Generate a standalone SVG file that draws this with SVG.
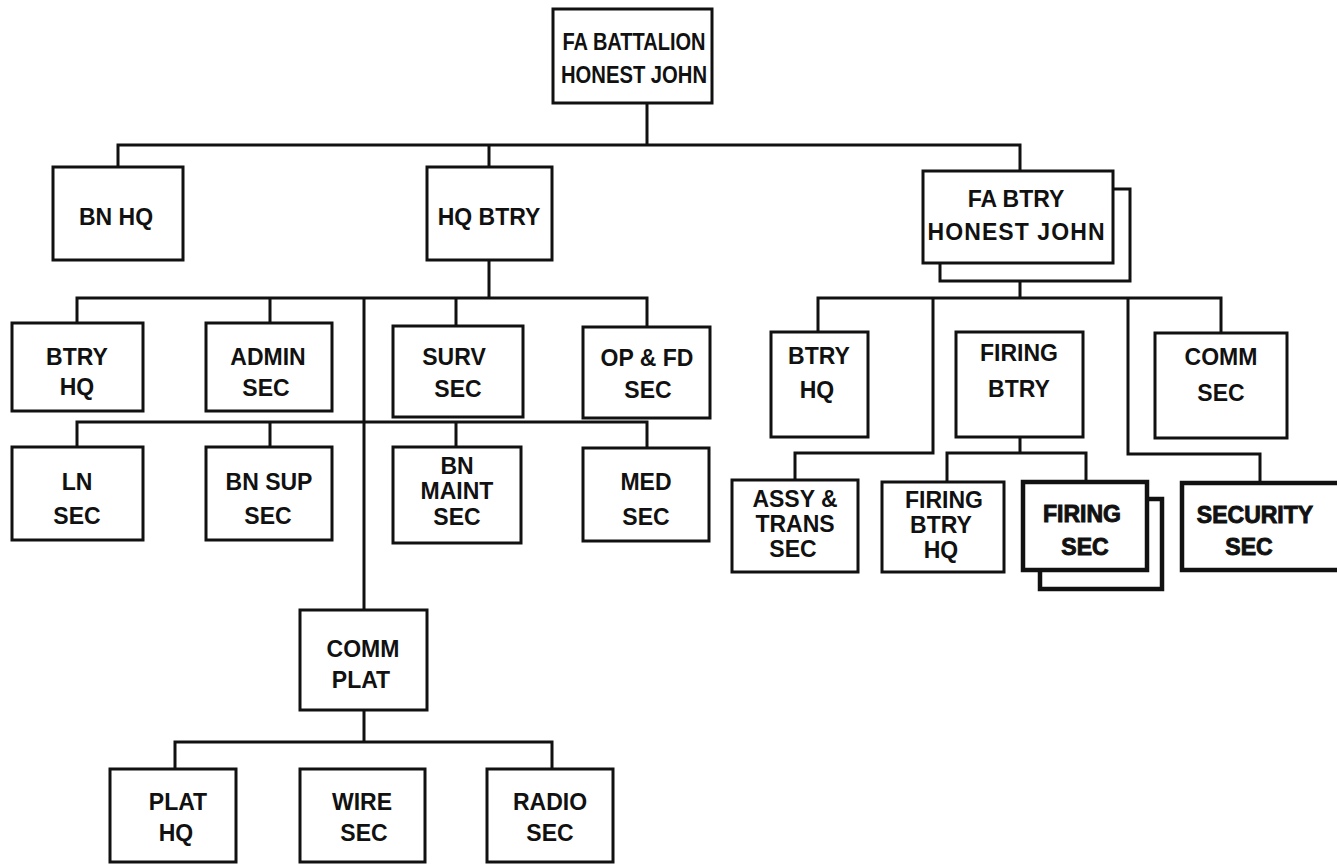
<svg xmlns="http://www.w3.org/2000/svg" width="1337" height="864" viewBox="0 0 1337 864">
<style>
.box{fill:#fff;stroke:#111;stroke-width:3}
.heavy{fill:#fff;stroke:#111;stroke-width:4.5}
.wire{fill:none;stroke:#111;stroke-width:3;stroke-linejoin:miter}
text{font-family:"Liberation Sans",Arial,sans-serif;font-weight:bold;font-size:23px;fill:#111;text-anchor:middle}
.hv{stroke:#111;stroke-width:0.9}
</style>
<rect width="1337" height="864" fill="#fff"/>
<g id="connectors">
<path class="wire" d="M647,103 V145 M118,167 V145 H1020 V171 M489,145 V167"/>
<path class="wire" d="M489,260 V298 M77,323 V298 H647 V327 M270,298 V323 M456,298 V326 M364,298 V610"/>
<path class="wire" d="M77,447 V422 H647 V448 M270,422 V447 M456,422 V447"/>
<path class="wire" d="M364,710 V742 M175,769 V742 H552 V769"/>
<path class="wire" d="M1020,281 V298 M818,332 V298 H1221 V333 M933,298 V453 H795 V480 M1128,298 V454 H1260 V483"/>
<path class="wire" d="M1020,437 V453 M947,482 V453 H1086 V482"/>
</g>
<g id="fa-battalion"><rect class="box" x="553" y="9" width="159" height="94"/>
<text x="634" y="50" textLength="143" lengthAdjust="spacingAndGlyphs">FA BATTALION</text>
<text x="634" y="83" textLength="146" lengthAdjust="spacingAndGlyphs">HONEST JOHN</text></g>
<g id="bn-hq"><rect class="box" x="53" y="167" width="130" height="93"/><text x="116" y="225">BN HQ</text></g>
<g id="hq-btry"><rect class="box" x="427" y="167" width="125" height="93"/><text x="489" y="225">HQ BTRY</text></g>
<g id="fa-btry"><rect class="box" x="940" y="189" width="190" height="92"/><rect class="box" x="923" y="171" width="190" height="92"/>
<text x="1016" y="207">FA BTRY</text><text x="1016" y="240" textLength="177">HONEST JOHN</text></g>
<g id="btry-hq-1"><rect class="box" x="12" y="323" width="131" height="88"/><text x="77" y="365">BTRY</text><text x="77" y="395">HQ</text></g>
<g id="admin-sec"><rect class="box" x="206" y="323" width="126" height="88"/><text x="268" y="365">ADMIN</text><text x="266" y="396">SEC</text></g>
<g id="surv-sec"><rect class="box" x="393" y="326" width="130" height="91"/><text x="454" y="365">SURV</text><text x="458" y="397">SEC</text></g>
<g id="op-fd-sec"><rect class="box" x="583" y="327" width="127" height="91"/><text x="647" y="366">OP &amp; FD</text><text x="648" y="398">SEC</text></g>
<g id="ln-sec"><rect class="box" x="12" y="447" width="131" height="93"/><text x="77" y="490">LN</text><text x="77" y="524">SEC</text></g>
<g id="bn-sup-sec"><rect class="box" x="206" y="447" width="126" height="93"/><text x="269" y="490">BN SUP</text><text x="268" y="524">SEC</text></g>
<g id="bn-maint-sec"><rect class="box" x="393" y="447" width="128" height="96"/><text x="457" y="474">BN</text><text x="457" y="499">MAINT</text><text x="457" y="525">SEC</text></g>
<g id="med-sec"><rect class="box" x="583" y="448" width="126" height="93"/><text x="646" y="490">MED</text><text x="646" y="525">SEC</text></g>
<g id="comm-plat"><rect class="box" x="300" y="610" width="127" height="100"/><text x="363" y="657">COMM</text><text x="361" y="688">PLAT</text></g>
<g id="plat-hq"><rect class="box" x="110" y="769" width="126" height="93"/><text x="178" y="810">PLAT</text><text x="176" y="841">HQ</text></g>
<g id="wire-sec"><rect class="box" x="300" y="769" width="125" height="93"/><text x="362" y="810">WIRE</text><text x="364" y="841">SEC</text></g>
<g id="radio-sec"><rect class="box" x="487" y="769" width="126" height="93"/><text x="550" y="810">RADIO</text><text x="550" y="841">SEC</text></g>
<g id="btry-hq-2"><rect class="box" x="771" y="332" width="97" height="105"/><text x="819" y="364">BTRY</text><text x="817" y="398">HQ</text></g>
<g id="firing-btry"><rect class="box" x="956" y="332" width="127" height="105"/><text x="1019" y="361">FIRING</text><text x="1019" y="397">BTRY</text></g>
<g id="comm-sec"><rect class="box" x="1155" y="333" width="132" height="105"/><text x="1221" y="365">COMM</text><text x="1221" y="401">SEC</text></g>
<g id="assy-trans-sec"><rect class="box" x="732" y="480" width="126" height="92"/><text x="795" y="507">ASSY &amp;</text><text x="795" y="532">TRANS</text><text x="793" y="557">SEC</text></g>
<g id="firing-btry-hq"><rect class="box" x="882" y="482" width="122" height="90"/><text x="944" y="508">FIRING</text><text x="941" y="533">BTRY</text><text x="941" y="558">HQ</text></g>
<g id="firing-sec"><rect class="heavy" x="1040" y="499" width="122" height="90"/><rect class="heavy" x="1023" y="482" width="124" height="88"/><text class="hv" x="1082" y="522">FIRING</text><text class="hv" x="1085" y="555">SEC</text></g>
<g id="security-sec"><rect class="heavy" x="1182" y="483" width="170" height="87"/><text class="hv" x="1255" y="523">SECURITY</text><text class="hv" x="1249" y="555">SEC</text></g>
</svg>
